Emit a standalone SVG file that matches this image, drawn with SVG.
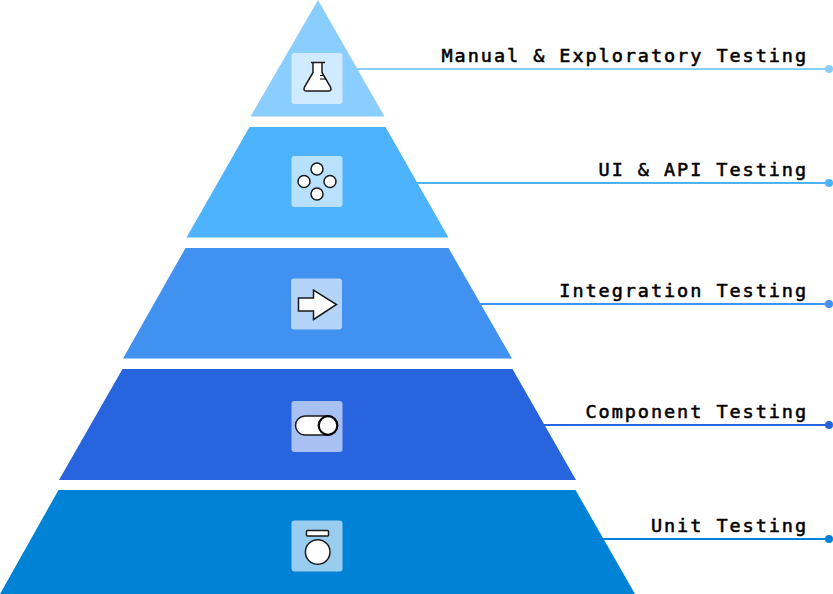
<svg xmlns="http://www.w3.org/2000/svg" width="833" height="594" viewBox="0 0 833 594">
<style>
text{font-family:"DejaVu Sans Mono","Liberation Mono",monospace;font-size:18.5px;letter-spacing:1.95px;fill:#000;text-anchor:end;stroke:#000;stroke-width:.55px}
.tile{fill:#fff;fill-opacity:.6;}
.ic{fill:#fff;stroke:#1a1a1a;stroke-width:1.5}
.ln{stroke-width:2;fill:none}
</style>
<rect width="833" height="594" fill="#fff"/>
<g id="connectors">
<path class="ln" stroke="#8acdff" d="M357 69H829"/><circle cx="829" cy="69" r="4" fill="#8acdff"/>
<path class="ln" stroke="#4db3ff" d="M416 183H829"/><circle cx="829" cy="183" r="4" fill="#4db3ff"/>
<path class="ln" stroke="#4191f0" d="M479 304H829"/><circle cx="829" cy="304" r="4" fill="#4191f0"/>
<path class="ln" stroke="#2764de" d="M544 425H829"/><circle cx="829" cy="425" r="4" fill="#2764de"/>
<path class="ln" stroke="#0082d6" d="M603 539H829"/><circle cx="829" cy="539" r="4" fill="#0082d6"/>
</g>
<g id="node-manual">
<polygon points="318,0 384.500,116.500 250.500,116.500" fill="#8acdff"/>
<rect class="tile" x="291.500" y="53" width="51" height="51" rx="3"/>
<path class="ic" d="M311 62.500H325M313 62.500V72.500L304.500 87Q303 91 306 91H329Q332 91 330.500 87L322 72.500V62.500"/>
<path d="M320 79H326M320 75.500H323" stroke="#000" stroke-width="1" fill="none"/>
<text x="808" y="62">Manual &amp; Exploratory Testing</text>
</g>
<g id="node-ui-api">
<polygon points="249.500,127 385.500,127 448.500,237.500 186.500,237.500" fill="#4db3ff"/>
<rect class="tile" x="291.500" y="156" width="51" height="51" rx="3"/>
<circle class="ic" cx="317" cy="169" r="6"/><circle class="ic" cx="304" cy="181.500" r="6"/><circle class="ic" cx="330" cy="181.500" r="6"/><circle class="ic" cx="317" cy="194" r="6"/>
<text x="808" y="176">UI &amp; API Testing</text>
</g>
<g id="node-integration">
<polygon points="185.500,248 448.500,248 512,358.500 123,358.500" fill="#4191f0"/>
<rect class="tile" x="291" y="278.500" width="51" height="51" rx="3"/>
<path class="ic" d="M298.500 298H313.500V290L336.500 304.500L313.500 319.500V311H298.500Z"/>
<text x="808" y="297">Integration Testing</text>
</g>
<g id="node-component">
<polygon points="122.500,369 512.500,369 576,480 59,480" fill="#2764de"/>
<rect class="tile" x="291.500" y="401" width="51" height="51" rx="3"/>
<rect class="ic" x="295.500" y="416" width="42" height="19" rx="9.500"/>
<circle cx="328" cy="425.500" r="9.300" fill="#fff" stroke="#000" stroke-width="2.200"/>
<text x="808" y="418">Component Testing</text>
</g>
<g id="node-unit">
<polygon points="58.500,490 575.500,490 635,594 0,594" fill="#0082d6"/>
<rect class="tile" x="291.500" y="520.500" width="51" height="51" rx="3"/>
<rect class="ic" x="306.500" y="530.500" width="22" height="5.500" rx="1"/>
<circle class="ic" cx="317.700" cy="552" r="12.300"/>
<text x="808" y="532">Unit Testing</text>
</g>
</svg>
